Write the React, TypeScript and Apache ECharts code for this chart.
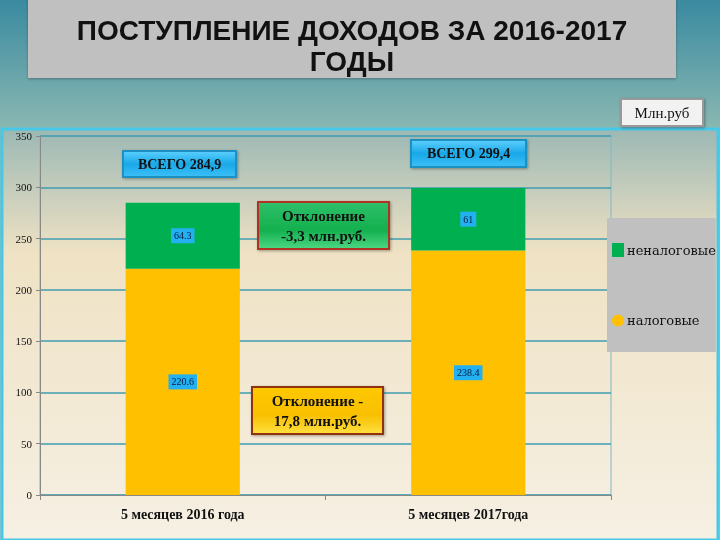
import React, { useEffect, useRef } from "react";
import * as echarts from "echarts";

const categories = ["5 месяцев 2016 года", "5 месяцев 2017года"];
const taxValues = [220.6, 238.4];
const nonTaxValues = [64.3, 61];
const yTicks = { min: 0, max: 350, interval: 50 };
const seriesNames = ["налоговые", "неналоговые"];
const deviations = ["Отклонение\n-3,3 млн.руб.", "Отклонение -\n17,8 млн.руб."];

const fmt = (v: number) => v.toFixed(1).replace(".", ",");

function box(x: number, y: number, w: number, h: number, text: string, fill: any, stroke: string, font: string) {
  return {
    type: "group",
    x,
    y,
    z: 100,
    children: [
      {
        type: "rect",
        z: 100,
        shape: { x: 0, y: 0, width: w, height: h },
        style: { fill, stroke, lineWidth: 2, shadowBlur: 3, shadowColor: "rgba(0,0,0,0.35)", shadowOffsetX: 1, shadowOffsetY: 1 },
      },
      {
        type: "text",
        z: 101,
        x: w / 2,
        y: h / 2,
        style: { text, fill: "#111", font, align: "center", verticalAlign: "middle", lineHeight: 20 },
      },
    ],
  };
}

export default function App() {
  const ref = useRef<HTMLDivElement>(null);
  useEffect(() => {
    if (!ref.current) return;
    const chart = echarts.init(ref.current, null, { renderer: "svg" });
    const totals = taxValues.map((v, i) => v + nonTaxValues[i]);
    const blueFill = new echarts.graphic.LinearGradient(0, 0, 0, 1, [
      { offset: 0, color: "#5cd0ff" },
      { offset: 0.5, color: "#1aa8e8" },
      { offset: 1, color: "#3cc0f8" },
    ]);
    const greenFill = new echarts.graphic.LinearGradient(0, 0, 0, 1, [
      { offset: 0, color: "#2fc06a" },
      { offset: 0.6, color: "#14b04e" },
      { offset: 1, color: "#4cd884" },
    ]);
    const yellowFill = new echarts.graphic.LinearGradient(0, 0, 0, 1, [
      { offset: 0, color: "#ffc800" },
      { offset: 0.6, color: "#f8c000" },
      { offset: 1, color: "#ffe040" },
    ]);
    const labelStyle = {
      show: true,
      position: "inside",
      backgroundColor: "#22b0f0",
      color: "#0a1a40",
      fontFamily: "Liberation Serif, serif",
      fontSize: 10,
      padding: [3, 3, 2, 3],
      formatter: (p: any) => String(p.value),
    };
    chart.setOption({
      animation: false,
      backgroundColor: "transparent",
      graphic: [
        {
          type: "rect",
          z: -10,
          shape: { x: 0, y: 0, width: 720, height: 540 },
          style: {
            fill: new echarts.graphic.LinearGradient(0, 0, 0, 1, [
              { offset: 0, color: "#3a8aa0" },
              { offset: 0.24, color: "#8bb8b2" },
              { offset: 1, color: "#a8c8c0" },
            ]),
          },
        },
        {
          type: "rect",
          z: -9,
          shape: { x: 2, y: 129, width: 716, height: 411 },
          style: {
            fill: new echarts.graphic.LinearGradient(0, 0, 0, 1, [
              { offset: 0, color: "#9cb8b4" },
              { offset: 0.3, color: "#efe2c4" },
              { offset: 1, color: "#f6f0e4" },
            ]),
            stroke: "#46c8e8",
            lineWidth: 3,
          },
        },
        {
          type: "rect",
          z: -8,
          shape: { x: 28, y: -2, width: 648, height: 80 },
          style: { fill: "#c0c0c0", shadowBlur: 3, shadowColor: "rgba(0,0,0,0.3)", shadowOffsetY: 1 },
        },
        {
          type: "text",
          x: 352,
          y: 46,
          z: 5,
          style: {
            text: "ПОСТУПЛЕНИЕ ДОХОДОВ ЗА 2016-2017\nГОДЫ",
            font: "bold 28px 'Liberation Sans', Arial, sans-serif",
            fill: "#111",
            align: "center",
            verticalAlign: "middle",
            lineHeight: 31,
          },
        },
        box(621, 99, 82, 27, "Млн.руб", "#f2f2f2", "#999", "15px 'Liberation Serif', serif"),
        box(123, 151, 113, 26, "ВСЕГО " + fmt(totals[0]), blueFill, "#1a90c0", "bold 14px 'Liberation Serif', serif"),
        box(411, 140, 115, 27, "ВСЕГО " + fmt(totals[1]), blueFill, "#1a90c0", "bold 14px 'Liberation Serif', serif"),
        box(258, 202, 131, 47, deviations[0], greenFill, "#b03020", "bold 15px 'Liberation Serif', serif"),
        box(252, 387, 131, 47, deviations[1], yellowFill, "#903010", "bold 15px 'Liberation Serif', serif"),
      ],
      grid: { left: 40, right: 109, top: 136, bottom: 45, show: true, borderColor: "#7fb8c4", borderWidth: 1, backgroundColor: "transparent" },
      legend: {
        orient: "vertical",
        left: 607,
        top: 218,
        backgroundColor: "#c0c0c0",
        padding: [25, 0, 25, 5],
        itemGap: 57,
        itemWidth: 12,
        itemHeight: 14,
        textStyle: { fontFamily: "'DejaVu Serif', serif", fontSize: 13, color: "#111", padding: [0, 0, 0, -2] },
        data: [
          { name: seriesNames[1], icon: "rect" },
          { name: seriesNames[0], icon: "circle" },
        ],
      },
      xAxis: {
        type: "category",
        data: categories,
        axisLine: { lineStyle: { color: "#888" } },
        axisTick: { show: true, alignWithLabel: false, lineStyle: { color: "#888" } },
        axisLabel: { fontFamily: "'Liberation Serif', serif", fontWeight: "bold", fontSize: 14, color: "#111", margin: 12 },
      },
      yAxis: {
        type: "value",
        min: yTicks.min,
        max: yTicks.max,
        interval: yTicks.interval,
        axisLine: { show: true, lineStyle: { color: "#888" } },
        axisTick: { show: true, length: 4, lineStyle: { color: "#888" } },
        splitLine: { lineStyle: { color: "#3f9db0", width: 1.5 } },
        axisLabel: { fontFamily: "'Liberation Serif', serif", fontSize: 11, color: "#111", margin: 8 },
      },
      series: [
        {
          name: seriesNames[0],
          type: "bar",
          stack: "total",
          barWidth: "40%",
          data: taxValues,
          itemStyle: { color: "#ffc000" },
          label: labelStyle,
        },
        {
          name: seriesNames[1],
          type: "bar",
          stack: "total",
          barWidth: "40%",
          data: nonTaxValues,
          itemStyle: { color: "#00b050" },
          label: labelStyle,
        },
      ],
    });
    return () => chart.dispose();
  }, []);
  return <div ref={ref} style={{ position: "fixed", left: 0, top: 0, width: 720, height: 540 }} />;
}
